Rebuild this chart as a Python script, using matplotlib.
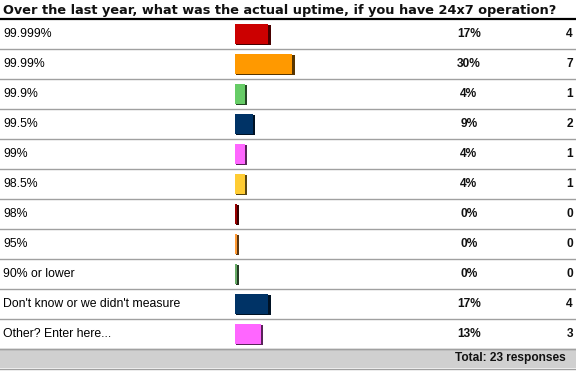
import matplotlib
matplotlib.use("Agg")
import matplotlib.pyplot as plt
from matplotlib.colors import to_rgb

title = "Over the last year, what was the actual uptime, if you have 24x7 operation?"
categories = ["99.999%", "99.99%", "99.9%", "99.5%", "99%", "98.5%", "98%", "95%",
              "90% or lower", "Don't know or we didn't measure", "Other? Enter here..."]
percents = [17, 30, 4, 9, 4, 4, 0, 0, 0, 17, 13]
counts = [4, 7, 1, 2, 1, 1, 0, 0, 0, 4, 3]
colors = ["#CC0000", "#FF9900", "#66CC66", "#003366", "#FF66FF", "#FFCC33",
          "#990000", "#FF9933", "#66AA66", "#003366", "#FF66FF"]
total_label = "Total: 23 responses"

W, H = 576, 374
fig = plt.figure(figsize=(W / 100, H / 100), dpi=100)
ax = fig.add_axes([0, 0, 1, 1])
ax.set_xlim(0, W)
ax.set_ylim(H, 0)
ax.axis("off")

top = 19
row_h = 30
bar_x0 = 235
px_per_pct = 1.82
total = sum(counts)

ax.text(3, 10, title, fontsize=9.3, fontweight="bold", family="DejaVu Sans",
        va="center", ha="left", color="#111111")
ax.plot([0, W], [top, top], color="black", lw=1.6, solid_capstyle="butt")

label_font = dict(family="Liberation Sans", fontsize=8.8)
for i, (cat, p, c, col) in enumerate(zip(categories, percents, counts, colors)):
    yc = top + row_h * i + row_h / 2
    exact = 100.0 * c / total
    w = 3 + px_per_pct * exact
    dark = tuple(v * 0.35 for v in to_rgb(col))
    ax.barh(yc + 0.8, w, left=bar_x0 + 1.2, height=20, color=dark, linewidth=0)
    ax.barh(yc, w - 1.2, left=bar_x0, height=20, color=col, linewidth=0)
    ax.text(3, yc, cat, va="center", ha="left", color="black", **label_font)
    ax.text(469, yc, f"{p}%", va="center", ha="center", color="#111111",
            fontweight="bold", family="Liberation Sans", fontsize=8.6)
    ax.text(573, yc, str(c), va="center", ha="right", color="#111111",
            fontweight="bold", family="Liberation Sans", fontsize=8.6)
    ax.plot([0, W], [top + row_h * (i + 1)] * 2, color="#A0A0A0", lw=1.0)

ybot = top + row_h * len(categories)
ax.fill_between([0, W], ybot, ybot + 19, color="#D0D0D0", linewidth=0)
ax.plot([0, W], [ybot, ybot], color="#A0A0A0", lw=1.0)
ax.plot([0, W], [ybot + 19.5] * 2, color="#A0A0A0", lw=1.0)
ax.text(566, ybot + 9.5, total_label, va="center", ha="right", color="#111111",
        fontweight="bold", family="Liberation Sans", fontsize=8.6)

fig.savefig("out.png", dpi=100)
